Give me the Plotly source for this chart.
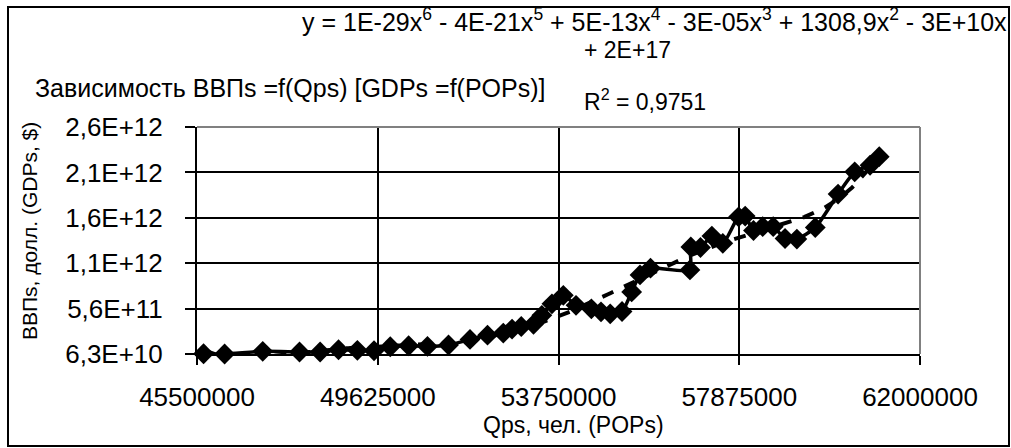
import numpy as np
import plotly.graph_objects as go

# Population (persons) and GDP (USD)
pops = [45.65e6, 46.13e6, 47.00e6, 47.84e6, 48.31e6, 48.73e6, 49.16e6, 49.54e6,
        49.91e6, 50.33e6, 50.76e6, 51.24e6, 51.73e6, 52.13e6, 52.49e6, 52.69e6,
        52.90e6, 53.18e6, 53.37e6, 53.60e6, 53.86e6, 54.15e6, 54.50e6, 54.72e6,
        54.93e6, 55.20e6, 55.42e6, 55.61e6, 55.85e6, 56.75e6, 56.77e6, 56.99e6,
        57.25e6, 57.50e6, 57.86e6, 58.01e6, 58.20e6, 58.41e6, 58.65e6, 58.92e6,
        59.19e6, 59.61e6, 60.13e6, 60.51e6, 60.86e6, 61.07e6]
gdps = [0.066e12, 0.063e12, 0.092e12, 0.085e12, 0.085e12, 0.110e12, 0.103e12, 0.099e12,
        0.143e12, 0.154e12, 0.146e12, 0.162e12, 0.223e12, 0.270e12, 0.294e12, 0.338e12,
        0.366e12, 0.390e12, 0.489e12, 0.616e12, 0.709e12, 0.599e12, 0.561e12, 0.528e12,
        0.506e12, 0.531e12, 0.747e12, 0.934e12, 1.008e12, 0.989e12, 1.242e12, 1.236e12,
        1.362e12, 1.282e12, 1.574e12, 1.582e12, 1.423e12, 1.465e12, 1.465e12, 1.335e12,
        1.329e12, 1.456e12, 1.824e12, 2.069e12, 2.142e12, 2.236e12]

x_ticks = [45500000, 49625000, 53750000, 57875000, 62000000]
y_ticks = [6.3e10, 5.63e11, 1.063e12, 1.563e12, 2.063e12, 2.563e12]
y_tick_text = ["6,3E+10", "5,6E+11", "1,1E+12", "1,6E+12", "2,1E+12", "2,6E+12"]

W, H = 1011, 448
L, R, T, B = 197, 91, 127, 94

# 6th-order polynomial trend
poly = np.polynomial.Polynomial.fit(pops, gdps, 6)
xt = np.linspace(min(pops), max(pops), 300)
yt = poly(xt)

FONT = "Liberation Sans, Arial, sans-serif"


def px(xp):
    return (xp - L) / (W - L - R)


def py(yp):
    return (H - B - yp) / (H - T - B)


fig = go.Figure()
fig.add_trace(go.Scatter(x=pops, y=gdps, mode="lines+markers",
                         line=dict(color="black", width=3.5, shape="spline", smoothing=0.6),
                         marker=dict(symbol="diamond", size=16, color="black"),
                         showlegend=False, cliponaxis=False))
fig.add_trace(go.Scatter(x=xt, y=yt, mode="lines",
                         line=dict(color="black", width=4, dash="dash"),
                         showlegend=False))

fig.update_layout(
    width=W, height=H,
    margin=dict(l=L, r=R, t=T, b=B),
    paper_bgcolor="white", plot_bgcolor="white",
    font=dict(family=FONT, color="black"),
    xaxis=dict(range=[45500000, 62000000], tickvals=x_ticks,
               ticktext=[str(v) for v in x_ticks],
               showgrid=True, gridcolor="black", gridwidth=2,
               showline=True, linecolor="black", linewidth=2,
               ticks="outside", ticklen=9, tickcolor="black", tickwidth=2,
               tickfont=dict(size=26), ticklabelstandoff=10, zeroline=False),
    yaxis=dict(range=[6.3e10, 2.563e12], tickvals=y_ticks, ticktext=y_tick_text,
               showgrid=True, gridcolor="black", gridwidth=2,
               showline=True, linecolor="black", linewidth=2,
               ticks="outside", ticklen=10, tickcolor="black", tickwidth=2,
               tickfont=dict(size=26), ticklabelstandoff=17, zeroline=False),
)

# top and right edges of the plot area
fig.add_shape(type="line", xref="paper", yref="paper", x0=0, x1=1, y0=1, y1=1,
              line=dict(color="#808080", width=2))
fig.add_shape(type="line", xref="paper", yref="paper", x0=1, x1=1, y0=0, y1=1,
              line=dict(color="#808080", width=2))
# outer chart frame
fig.add_shape(type="rect", xref="paper", yref="paper",
              x0=px(8), x1=px(1009), y0=py(446), y1=py(7),
              line=dict(color="black", width=2))

# axis titles
fig.add_annotation(xref="paper", yref="paper", x=px(573), y=py(425), xanchor="center",
                   yanchor="middle", showarrow=False, text="Qps, чел. (POPs)",
                   font=dict(size=23))
fig.add_annotation(xref="paper", yref="paper", x=px(29), y=py(231), xanchor="center",
                   yanchor="middle", showarrow=False, text="ВВПs, долл. (GDPs, $)",
                   textangle=-90, font=dict(size=21))

# trend equation and chart caption
fig.add_annotation(xref="paper", yref="paper", x=px(1009), y=py(20), xanchor="right",
                   yanchor="middle", showarrow=False,
                   text="y = 1E-29x<sup>6</sup> - 4E-21x<sup>5</sup> + 5E-13x<sup>4</sup> - 3E-05x<sup>3</sup> + 1308,9x<sup>2</sup> - 3E+10x",
                   font=dict(size=25))
fig.add_annotation(xref="paper", yref="paper", x=px(627), y=py(50), xanchor="center",
                   yanchor="middle", showarrow=False, text="+ 2E+17",
                   font=dict(size=23))
fig.add_annotation(xref="paper", yref="paper", x=px(645), y=py(100), xanchor="center",
                   yanchor="middle", showarrow=False, text="R<sup>2</sup> = 0,9751",
                   font=dict(size=23))
fig.add_annotation(xref="paper", yref="paper", x=px(33), y=py(88), xanchor="left",
                   yanchor="middle", showarrow=False,
                   text="Зависимость ВВПs =f(Qps) [GDPs =f(POPs)]",
                   font=dict(size=25))

fig.write_html("out.html")
